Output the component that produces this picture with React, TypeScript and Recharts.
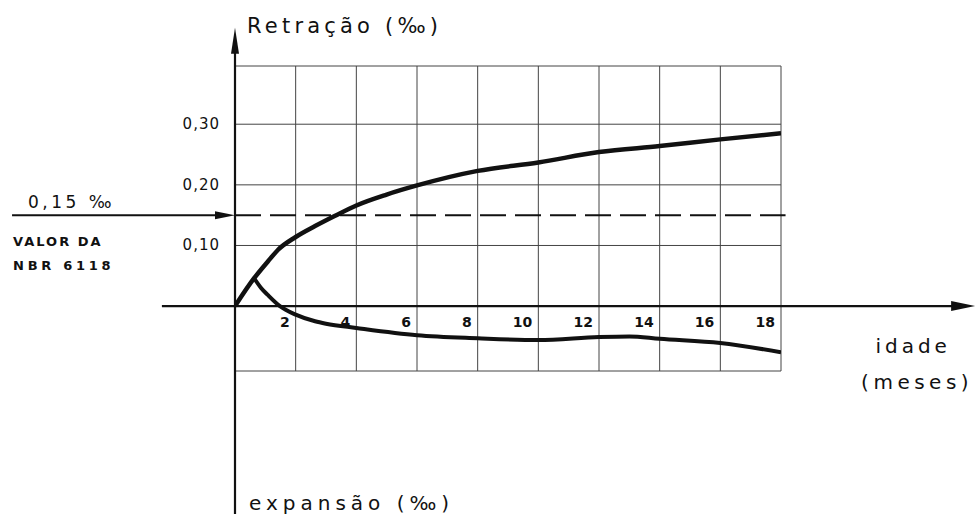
import React from 'react';
import { LineChart, Line, XAxis, YAxis, CartesianGrid, ReferenceLine, ReferenceDot } from 'recharts';

// Retração (acima do eixo) e expansão (abaixo) em ‰, pela idade em meses
const retracaoMeses = [0, 0.63, 1.09, 1.42, 2, 2.64, 3.3, 4, 5, 6, 8, 10, 12, 14, 16, 18];
const retracaoValores = [0, 0.046, 0.074, 0.093, 0.114, 0.132, 0.149, 0.166, 0.184, 0.199, 0.223, 0.237, 0.254, 0.264, 0.275, 0.285];
const expansaoMeses = [0.63, 0.86, 1.09, 1.48, 2, 2.64, 3, 4, 6, 8, 10, 12, 13, 14, 16, 18];
const expansaoValores = [0.046, 0.03, 0.018, 0, -0.014, -0.025, -0.029, -0.036, -0.048, -0.053, -0.056, -0.051, -0.05, -0.054, -0.061, -0.076];

// Eixos e grade
const mesesTicks = [2, 4, 6, 8, 10, 12, 14, 16, 18];
const gradeMeses = [0, 2, 4, 6, 8, 10, 12, 14, 16, 18];
const valoresTicks = [0.1, 0.2, 0.3];
const valoresRotulos = ['0,10', '0,20', '0,30'];
const GRADE_TOPO = 0.396;
const GRADE_BASE = -0.107;
const MES_MAX = 18;
const EIXO_X_INICIO = -2.41;
const EIXO_X_FIM = 24.4;
const EIXO_Y_TOPO = 0.459;
const EIXO_Y_BASE = -0.37;

// Valor da norma
const VALOR_NBR = 0.15;
const SETA_NBR_INICIO = -7.35;

const retracao = retracaoMeses.map((m, i) => ({ m, v: retracaoValores[i] }));
const expansao = expansaoMeses.map((m, i) => ({ m, v: expansaoValores[i] }));

const FONTE = '"DejaVu Sans", sans-serif';
const TINTA = '#111';

const Seta = (props: any) => {
  const { x1, y1, x2, y2, cabeca = 24, meia = 4.5, espessura = 2 } = props;
  const dx = x2 - x1;
  const dy = y2 - y1;
  const len = Math.hypot(dx, dy) || 1;
  const ux = dx / len;
  const uy = dy / len;
  const bx = x2 - ux * cabeca;
  const by = y2 - uy * cabeca;
  const px = -uy * meia;
  const py = ux * meia;
  return (
    <g>
      <line x1={x1} y1={y1} x2={bx + ux * 2} y2={by + uy * 2} stroke={TINTA} strokeWidth={espessura} />
      <polygon points={`${x2},${y2} ${bx + px},${by + py} ${bx - px},${by - py}`} fill={TINTA} />
    </g>
  );
};

const Texto = (props: any) => {
  const { viewBox, texto, dx = 0, dy = 0, ancora = 'start', tamanho = 14, peso = 'normal', espaco = 0 } = props;
  if (!viewBox) return null;
  const x = viewBox.x + (viewBox.width || 0) / 2 + dx;
  const y = viewBox.y + (viewBox.height || 0) / 2 + dy;
  return (
    <text x={x} y={y} textAnchor={ancora} fontFamily={FONTE} fontSize={tamanho} fontWeight={peso} letterSpacing={espaco} fill={TINTA}>
      {texto}
    </text>
  );
};

const nada = () => <g />;

export default function App() {
  return (
    <div style={{ position: 'absolute', left: 0, top: 0, background: '#fff' }}>
      <LineChart width={976} height={514} margin={{ top: 66, right: 195, bottom: 143, left: 235 }}>
        <XAxis dataKey="m" type="number" domain={[0, MES_MAX]} ticks={gradeMeses} hide allowDataOverflow />
        <YAxis dataKey="v" type="number" domain={[GRADE_BASE, GRADE_TOPO]} ticks={[GRADE_BASE, 0, ...valoresTicks, GRADE_TOPO]} hide allowDataOverflow />
        <CartesianGrid stroke="#444" strokeWidth={1} />

        {/* linha tracejada do valor da norma */}
        <ReferenceLine segment={[{ x: 0, y: VALOR_NBR }, { x: MES_MAX + 0.15, y: VALOR_NBR }]} stroke={TINTA} strokeWidth={2} strokeDasharray="26 9" ifOverflow="visible" />
        {/* seta indicando o valor da norma */}
        <ReferenceLine segment={[{ x: SETA_NBR_INICIO, y: VALOR_NBR }, { x: 0, y: VALOR_NBR }]} ifOverflow="visible" shape={(p: any) => <Seta {...p} cabeca={20} meia={4} espessura={2} />} />

        {/* eixos com setas */}
        <ReferenceLine segment={[{ x: EIXO_X_INICIO, y: 0 }, { x: EIXO_X_FIM, y: 0 }]} ifOverflow="visible" shape={(p: any) => <Seta {...p} cabeca={24} meia={5} espessura={2.2} />} />
        <ReferenceLine segment={[{ x: 0, y: EIXO_Y_BASE }, { x: 0, y: EIXO_Y_TOPO }]} ifOverflow="visible" shape={(p: any) => <Seta {...p} cabeca={26} meia={4} espessura={2.2} />} />

        <Line data={retracao} dataKey="v" type="monotone" stroke={TINTA} strokeWidth={4.5} dot={false} isAnimationActive={false} />
        <Line data={expansao} dataKey="v" type="monotone" stroke={TINTA} strokeWidth={4} dot={false} isAnimationActive={false} />

        {/* rótulos do eixo das idades */}
        {mesesTicks.map((t) => (
          <ReferenceDot key={`mx${t}`} x={t} y={0} r={0} shape={nada} ifOverflow="visible"
            label={<Texto texto={String(t)} dx={-6} dy={21} ancora="end" tamanho={14} peso="bold" />} />
        ))}
        {/* rótulos do eixo dos valores */}
        {valoresTicks.map((v, i) => (
          <ReferenceDot key={`vy${v}`} x={0} y={v} r={0} shape={nada} ifOverflow="visible"
            label={<Texto texto={valoresRotulos[i]} dx={-15} dy={5} ancora="end" tamanho={15} espaco={1} />} />
        ))}

        {/* títulos dos eixos */}
        <ReferenceDot x={0} y={EIXO_Y_TOPO} r={0} shape={nada} ifOverflow="visible"
          label={<Texto texto="Retração (‰)" dx={12} dy={5} tamanho={21} espaco={4.2} />} />
        <ReferenceDot x={0} y={EIXO_Y_BASE} r={0} shape={nada} ifOverflow="visible"
          label={<Texto texto="expansão (‰)" dx={14} dy={-20} tamanho={20} espaco={5} />} />
        <ReferenceDot x={EIXO_X_FIM} y={0} r={0} shape={nada} ifOverflow="visible"
          label={<Texto texto="idade" dx={-62} dy={47} ancora="middle" tamanho={20} espaco={4} />} />
        <ReferenceDot x={EIXO_X_FIM} y={0} r={0} shape={nada} ifOverflow="visible"
          label={<Texto texto="(meses)" dx={-58} dy={83} ancora="middle" tamanho={20} espaco={4.5} />} />

        {/* indicação do valor da NBR 6118 */}
        <ReferenceDot x={SETA_NBR_INICIO} y={VALOR_NBR} r={0} shape={nada} ifOverflow="visible"
          label={<Texto texto="0,15 ‰" dx={16} dy={-7} tamanho={17} espaco={3.5} />} />
        <ReferenceDot x={SETA_NBR_INICIO} y={VALOR_NBR} r={0} shape={nada} ifOverflow="visible"
          label={<Texto texto="VALOR DA" dx={1} dy={31} tamanho={13} peso="bold" espaco={2} />} />
        <ReferenceDot x={SETA_NBR_INICIO} y={VALOR_NBR} r={0} shape={nada} ifOverflow="visible"
          label={<Texto texto="NBR 6118" dx={1} dy={55} tamanho={13} peso="bold" espaco={3.7} />} />
      </LineChart>
    </div>
  );
}
